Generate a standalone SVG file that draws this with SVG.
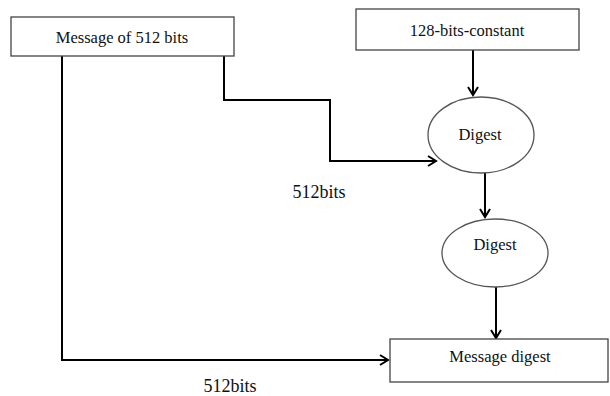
<svg xmlns="http://www.w3.org/2000/svg" width="610" height="396" viewBox="0 0 610 396">
<style>
.box{fill:#fff;stroke:#444;stroke-width:1.3}
.ell{fill:#fff;stroke:#555;stroke-width:1.3}
.t{font-family:"Liberation Serif","Times New Roman",serif;font-size:16.5px;fill:#111;text-anchor:middle}
.l{font-size:18px}
.c{fill:none;stroke:#000;stroke-width:2}
</style>
<defs>
<marker id="ah" markerWidth="12" markerHeight="12" refX="10" refY="6" orient="auto" markerUnits="userSpaceOnUse">
<path d="M2,1 L10,6 L2,11" fill="none" stroke="#000" stroke-width="2"/>
</marker>
</defs>
<rect width="610" height="396" fill="#fff"/>
<g id="connectors">
<path class="c" d="M62,56 V360 H388" marker-end="url(#ah)"/>
<path class="c" d="M224,56 V100 H330 V161 H436" marker-end="url(#ah)"/>
<path class="c" d="M473,50 V95" marker-end="url(#ah)"/>
<path class="c" d="M485,173 V217" marker-end="url(#ah)"/>
<path class="c" d="M496,287 V338" marker-end="url(#ah)"/>
</g>
<g id="msg">
<rect class="box" x="11" y="17" width="223" height="39"/>
<text class="t" x="122" y="43">Message of 512 bits</text>
</g>
<g id="const">
<rect class="box" x="356" y="9" width="223" height="41"/>
<text class="t" x="467" y="36">128-bits-constant</text>
</g>
<g id="digest1">
<ellipse class="ell" cx="481" cy="135" rx="53" ry="38"/>
<text class="t" x="480" y="140">Digest</text>
</g>
<g id="digest2">
<ellipse class="ell" cx="495" cy="253" rx="53" ry="34"/>
<text class="t" x="495" y="250">Digest</text>
</g>
<g id="md">
<rect class="box" x="390" y="339" width="218" height="43"/>
<text class="t" x="500" y="362">Message digest</text>
</g>
<g id="labels">
<text class="t l" x="319" y="198">512bits</text>
<text class="t l" x="230" y="392">512bits</text>
</g>
</svg>
